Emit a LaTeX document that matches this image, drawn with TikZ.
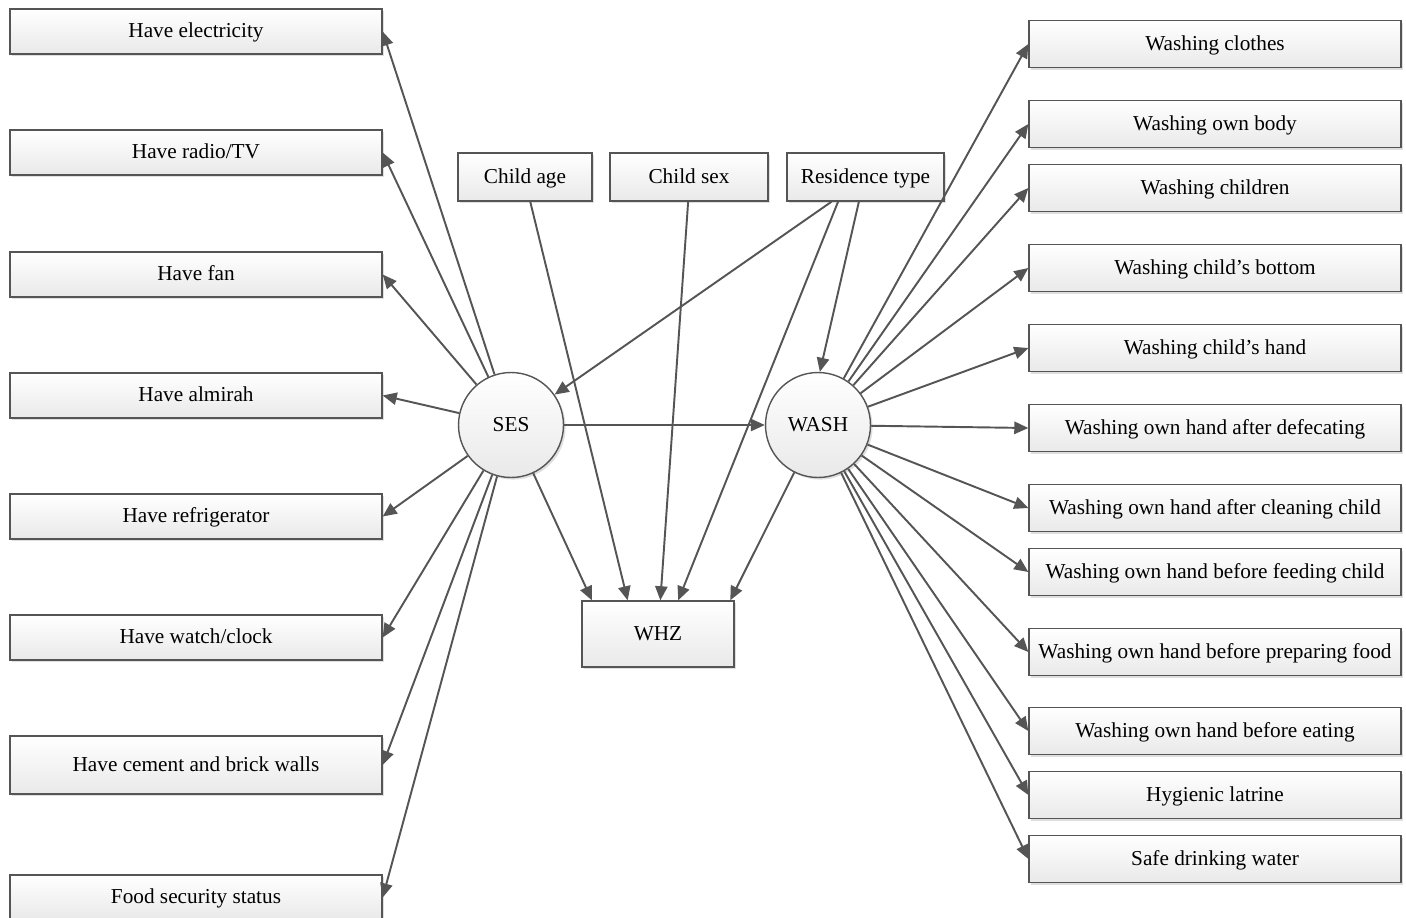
\documentclass[tikz,border=0pt]{standalone}
\usepackage{fontspec}
\setmainfont{Liberation Serif}
\usetikzlibrary{arrows.meta,shadows}

\definecolor{edgegray}{HTML}{555555}
\definecolor{fillgray}{HTML}{E9E9E9}

\begin{document}
\begin{tikzpicture}[x=0.02cm, y=-0.02cm,
        base/.style={draw=edgegray, line width=0.8pt, top color=white, bottom color=fillgray,
            drop shadow={shadow xshift=1.2pt, shadow yshift=-1.2pt, opacity=0.25, fill=gray},
            inner sep=0pt, text height=9.5pt, text depth=2.5pt, font=\fontsize{12.1}{14}\selectfont},
        box/.style={base, rectangle, minimum width=7.44cm, minimum height=0.9cm},
        topbox/.style={base, rectangle, minimum height=0.96cm},
        latent/.style={base, circle, minimum size=2.1cm},
        arr/.style={draw=edgegray, line width=1.1pt, -{Triangle[length=8pt, width=7pt]}}
    ]
    \clip (0,0) rectangle (1406,917); % page size of the reference

    % latent constructs
    \node[latent] (ses) at (511,425) {SES};
    \node[latent] (wash) at (818,425) {WASH};

    % covariates and outcome
    \node[topbox, minimum width=2.68cm] (age) at (525,177) {Child age};
    \node[topbox, minimum width=3.16cm] (sex) at (689,177) {Child sex};
    \node[topbox, minimum width=3.14cm] (res) at (865.5,177) {Residence type};
    \node[box, minimum width=3.04cm, minimum height=1.32cm] (whz) at (658,634) {WHZ};

    % SES indicators
    \foreach \n/\y/\t in {l1/31.5/{Have electricity}, l2/152.5/{Have radio/TV},
                          l3/274.5/{Have fan}, l4/395.5/{Have almirah},
                          l5/516.5/{Have refrigerator}, l6/637.5/{Have watch/clock},
                          l8/897.5/{Food security status}}
        \node[box] (\n) at (196,\y) {\t};
    \node[box, minimum height=1.16cm] (l7) at (196,765) {Have cement and brick walls};

    % WASH indicators
    \foreach \n/\y/\t in {r1/44/{Washing clothes}, r2/124/{Washing own body},
                          r3/188/{Washing children}, r4/268/{Washing child’s bottom},
                          r5/348/{Washing child’s hand}, r6/428/{Washing own hand after defecating},
                          r7/508/{Washing own hand after cleaning child},
                          r8/572/{Washing own hand before feeding child},
                          r9/652/{Washing own hand before preparing food},
                          r10/731/{Washing own hand before eating},
                          r11/795/{Hygienic latrine}, r12/859/{Safe drinking water}}
        \node[box, minimum height=0.94cm] (\n) at (1215,\y) {\t};

    % loadings
    \foreach \n in {l1,l2,l3,l4,l5,l6,l7,l8}
        \draw[arr] (ses) -- (\n.east);
    \foreach \n in {r1,r2,r3,r4,r5,r6,r7,r8,r9,r10,r11,r12}
        \draw[arr] (wash) -- (\n.west);

    % structural paths
    \draw[arr] (ses) -- (wash);
    \draw[arr] (ses) -- (whz.153);
    \draw[arr] (age.282) -- (whz.132);
    \draw[arr] (sex.268) -- (whz.86);
    \draw[arr] (res.216) -- (ses);
    \draw[arr] (res.222) -- (whz.59);
    \draw[arr] (res.255) -- (wash.88);
    \draw[arr] (wash) -- (whz.25);
\end{tikzpicture}
\end{document}
